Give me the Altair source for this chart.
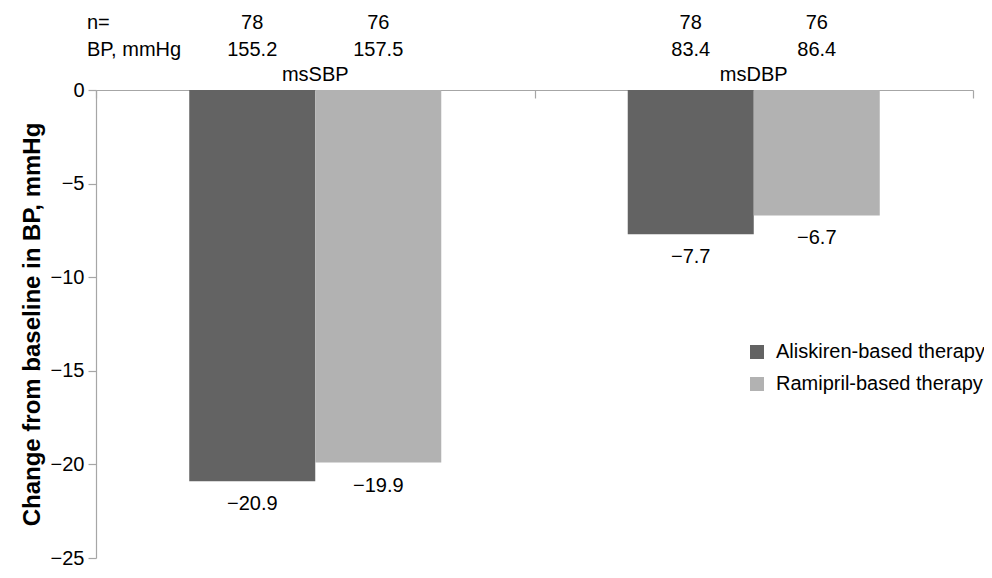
import altair as alt
import pandas as pd

groups = ["msSBP", "msDBP"]
series = ["Aliskiren-based therapy", "Ramipril-based therapy"]
sbp_change = [-20.9, -19.9]
dbp_change = [-7.7, -6.7]
n_values = [78, 76]
baseline_sbp = [155.2, 157.5]
baseline_dbp = [83.4, 86.4]
colors = ["#636363", "#b2b2b2"]
y_ticks = [0, -5, -10, -15, -20, -25]

rows = []
for g, changes, bases in [("msSBP", sbp_change, baseline_sbp), ("msDBP", dbp_change, baseline_dbp)]:
    for s, c, n, b in zip(series, changes, n_values, bases):
        rows.append({"group": g, "series": s, "change": c, "n": str(n), "bp": f"{b:.1f}"})
df = pd.DataFrame(rows)

FONT = "Liberation Sans"
W, H = 877, 468

x_axis = alt.Axis(orient="bottom", offset=-H, labels=False, title=None, domainColor="#a6a6a6",
                  tickColor="#a6a6a6", tickSize=8, tickBand="extent", domainWidth=1.2, tickWidth=1.2)
x_enc = alt.X("group:N", sort=groups, scale=alt.Scale(paddingInner=0, paddingOuter=0), axis=x_axis)
xoff = alt.XOffset("series:N", sort=series, scale=alt.Scale(paddingInner=0, paddingOuter=0.74))
y_enc = alt.Y("change:Q", scale=alt.Scale(domain=[-25, 0], nice=False, zero=False),
              axis=alt.Axis(values=y_ticks, title="Change from baseline in BP, mmHg", titleFontSize=24,
                            titleFontWeight="bold", titleColor="black", titlePadding=6,
                            labelFontSize=20, labelColor="black", labelPadding=4, tickSize=8,
                            tickColor="#a6a6a6", domainColor="#a6a6a6", grid=False,
                            domainWidth=1.2, tickWidth=1.2))

base = alt.Chart(df)

bars = base.mark_bar().encode(
    x=x_enc,
    xOffset=xoff,
    y=y_enc,
    y2=alt.datum(0),
    color=alt.Color("series:N", sort=series, scale=alt.Scale(domain=series, range=colors),
                    legend=alt.Legend(title=None, orient="none", legendX=651, legendY=252,
                                      symbolType="square", symbolSize=196, symbolStrokeWidth=0,
                                      labelFontSize=20, labelColor="black", rowPadding=12,
                                      labelOffset=9, labelFont=FONT, labelLimit=400)),
)

value_labels = base.mark_text(fontSize=20, baseline="middle", dy=23, color="black").encode(
    x=x_enc,
    xOffset=xoff,
    y=y_enc,
    text=alt.Text("change:Q", format=".1f"),
)

n_labels = base.mark_text(fontSize=20, baseline="middle", color="black").encode(
    x=x_enc, xOffset=xoff, y=alt.value(-67), text="n:N"
)
bp_labels = base.mark_text(fontSize=20, baseline="middle", color="black").encode(
    x=x_enc, xOffset=xoff, y=alt.value(-40), text="bp:N"
)

group_df = pd.DataFrame({"group": groups})
group_labels = alt.Chart(group_df).mark_text(fontSize=20, baseline="middle", color="black").encode(
    x=x_enc, y=alt.value(-15), text="group:N"
)

one = pd.DataFrame({"k": [0]})
n_row_label = alt.Chart(one).mark_text(fontSize=20, baseline="middle", align="left", color="black").encode(
    x=alt.value(-9), y=alt.value(-67), text=alt.value("n=")
)
bp_row_label = alt.Chart(one).mark_text(fontSize=20, baseline="middle", align="left", color="black").encode(
    x=alt.value(-9), y=alt.value(-40), text=alt.value("BP, mmHg")
)

chart = alt.layer(bars, value_labels, n_labels, bp_labels, group_labels, n_row_label, bp_row_label).properties(
    width=W, height=H,
    autosize=alt.AutoSizeParams(type="none"),
    padding={"left": 88, "top": 82, "right": 11, "bottom": 12},
).configure(font=FONT).configure_view(stroke=None)

chart.save("out.html", embed_options={"renderer": "svg", "actions": False})
